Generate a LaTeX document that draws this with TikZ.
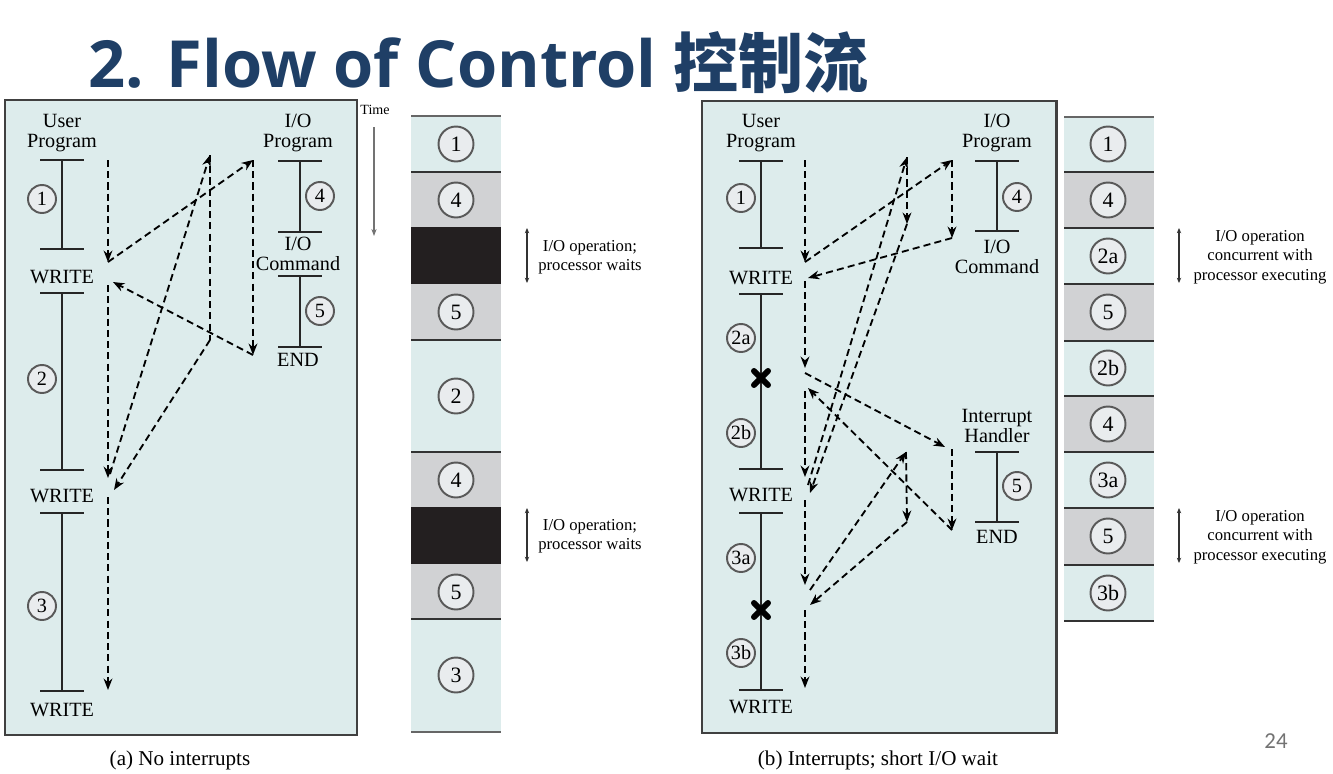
\documentclass[tikz,border=0pt]{standalone}
\usepackage{fontspec}
\setmainfont{Liberation Serif}
\newfontfamily\titlefont{Open Sans}
\newfontfamily\cjk{Noto Sans CJK SC}
\newfontfamily\pagefont{Carlito}
\usetikzlibrary{arrows.meta}

\definecolor{panelbg}{RGB}{221,236,236}
\definecolor{slotgray}{RGB}{209,210,212}
\definecolor{slotblack}{RGB}{35,31,32}
\definecolor{circfill}{RGB}{233,236,238}
\definecolor{titleblue}{RGB}{31,63,102}

\newcommand*{\tick}{22}
\newcommand*{\progbar}[3]{%
  \draw[bar] ({#1-\tick},#2) -- ({#1+\tick},#2)
    (#1,#2) -- (#1,#3)
    ({#1-\tick},#3) -- ({#1+\tick},#3);}
\newcommand*{\intmark}[2]{%
  \draw[line width=3.4pt,line cap=round] (#1-7,#2-7) -- (#1+7,#2+7) (#1-7,#2+7) -- (#1+7,#2-7);}

\begin{document}
\begin{tikzpicture}
[
	x=0.02cm, y=-0.02cm,
	panel/.style={draw=black!75,line width=1.7pt,fill=panelbg},
	bar/.style={line width=1.5pt,black!85},
	num/.style={circle,draw=black!65,fill=circfill,line width=1.1pt,inner sep=0pt,minimum size=0.56cm,font=\fontsize{11.5}{11.5}\selectfont},
	slotnum/.style={circle,draw=black!65,fill=circfill,line width=1.1pt,inner sep=0pt,minimum size=0.7cm,font=\fontsize{12.5}{12.5}\selectfont},
	lbl/.style={align=center,inner sep=0pt,font=\fontsize{11.5}{11.3}\selectfont},
	note/.style={align=center,inner sep=0pt,font=\fontsize{9.5}{11}\selectfont},
	flow/.style={line width=1.05pt,dash pattern=on 4pt off 2.4pt,-{Stealth[length=6.5pt,width=5pt]}},
	plain/.style={line width=1.05pt,dash pattern=on 4pt off 2.4pt},
	span/.style={line width=0.7pt,black!80,{Stealth[length=3pt,width=2.5pt]}-{Stealth[length=3pt,width=2.5pt]}},
	sep/.style={line width=0.8pt,black!80},
	edge/.style={line width=1.6pt,black!60}
]
	\useasboundingbox (0,0) rectangle (1333,774);

	% title
	\node[anchor=base west,inner sep=0pt,text=titleblue,font=\fontsize{37}{40}\selectfont] (title) at (88,87)
		{\titlefont\bfseries 2. Flow of Control \cjk\bfseries 控制流};

	% (a) no interrupts
	\draw[panel] (5,100) rectangle (357,735);
	\node[lbl] (aup) at (62,133) {User\\Program};
	\node[lbl] (aiop) at (298,133) {I/O\\Program};
	\progbar{62}{160}{249}
	\progbar{62}{293}{470}
	\progbar{62}{513}{691}
	\progbar{300}{161}{232}
	\progbar{300}{276}{347}
	\node[lbl] (awr1) at (62,277) {WRITE};
	\node[lbl] (awr2) at (62,496) {WRITE};
	\node[lbl] (awr3) at (62,710) {WRITE};
	\node[lbl,fill=panelbg] (aioc) at (298,254) {I/O\\Command};
	\node[lbl] (aend) at (298,360) {END};
	\node[num] (a1) at (42,199) {1};
	\node[num] (a2) at (42,379) {2};
	\node[num] (a3) at (42,606) {3};
	\node[num] (a4) at (320,196) {4};
	\node[num] (a5) at (320,311) {5};

	% flow of control (a)
	\coordinate (a0) at (108,160);
	\coordinate (aw1) at (108,262);
	\coordinate (ap1) at (253,160);
	\coordinate (ae1) at (253,355);
	\coordinate (ar1) at (113,282);
	\coordinate (as1) at (108,285);
	\coordinate (aw2) at (108,478);
	\coordinate (au2) at (110,474);
	\coordinate (ap2) at (210,155);
	\coordinate (ae2) at (210,340);
	\coordinate (ar2) at (114,490);
	\coordinate (as2) at (108,497);
	\coordinate (az) at (108,690);
	\draw[flow] (a0) -- (aw1);
	\draw[flow] (aw1) -- (ap1);
	\draw[flow] (ap1) -- (ae1);
	\draw[flow] (ae1) -- (ar1);
	\draw[flow] (as1) -- (aw2);
	\draw[flow] (au2) -- (ap2);
	\draw[plain] (ap2) -- (ae2);
	\draw[flow] (ae2) -- (ar2);
	\draw[flow] (as2) -- (az);

	% time axis
	\node[inner sep=0pt,font=\fontsize{8}{8}\selectfont] (time) at (375,110) {Time};
	\coordinate (t0) at (374,127);
	\coordinate (t1) at (374,236);
	\draw[line width=1.2pt,black!55,-{Stealth[length=4pt,width=3pt]}] (t0) -- (t1);

	% timeline (a)
	\foreach \top/\bot/\fil in {116/172/panelbg,172/227/slotgray,227/284/slotblack,284/340/slotgray,340/452/panelbg,452/507/slotgray,507/564/slotblack,564/619/slotgray,619/732/panelbg}
		\fill[\fil] (411,\top) rectangle (501,\bot);
	\foreach \y in {172,340,452,619}
		\draw[sep] (411,\y) -- (501,\y);
	\draw[edge] (411,116) -- (501,116);
	\draw[edge] (411,732) -- (501,732);
	\foreach \y/\lab [count=\i] in {144/1,200/4,312/5,396/2,480/4,592/5,675/3}
		\node[slotnum] (ta\i) at (456,\y) {\lab};

	\coordinate (sa1) at (527,228);
	\coordinate (sa2) at (527,283);
	\coordinate (sa3) at (527,508);
	\coordinate (sa4) at (527,562);
	\draw[span] (sa1) -- (sa2);
	\draw[span] (sa3) -- (sa4);
	\node[note] (na1) at (590,257) {I/O operation;\\processor waits};
	\node[note] (na2) at (590,536) {I/O operation;\\processor waits};

	\node[inner sep=0pt,font=\fontsize{12}{12}\selectfont] (capa) at (180,760) {(a) No interrupts};

	% (b) interrupts, short I/O wait
	\draw[panel] (702,101) rectangle (1056,733);
	\node[lbl] (bup) at (761,133) {User\\Program};
	\node[lbl] (biop) at (997,133) {I/O\\Program};
	\progbar{761}{161}{248}
	\progbar{761}{294}{469}
	\progbar{761}{513}{690}
	\progbar{997}{161}{231}
	\progbar{997}{452}{522}
	\node[lbl] (bwr1) at (761,278) {WRITE};
	\node[lbl] (bwr2) at (761,495) {WRITE};
	\node[lbl] (bwr3) at (761,707) {WRITE};
	\node[lbl] (bioc) at (997,257) {I/O\\Command};
	\node[lbl] (bih) at (997,426) {Interrupt\\Handler};
	\node[lbl] (bend) at (997,537) {END};
	\intmark{761}{378}
	\intmark{761}{610}
	\node[num] (b1) at (741,198) {1};
	\node[num] (b2a) at (741,338) {2a};
	\node[num] (b2b) at (741,433) {2b};
	\node[num] (b3a) at (741,558) {3a};
	\node[num] (b3b) at (741,653) {3b};
	\node[num] (b4) at (1017,197) {4};
	\node[num] (b5) at (1017,486) {5};

	% flow of control (b)
	\coordinate (b0) at (805,160);
	\coordinate (bw1) at (805,262);
	\coordinate (bp1) at (952,160);
	\coordinate (bc1) at (952,238);
	\coordinate (br1) at (808,278);
	\coordinate (bs1) at (805,281);
	\coordinate (bx1) at (805,368);
	\coordinate (bi1) at (805,373);
	\coordinate (bh1) at (945,447);
	\coordinate (bh1t) at (952,449);
	\coordinate (bd1) at (952,530);
	\coordinate (bq1) at (808,388);
	\coordinate (bs2) at (805,391);
	\coordinate (bw2) at (805,477);
	\coordinate (bu2) at (808,485);
	\coordinate (bp2) at (907,157);
	\coordinate (bc2) at (907,224);
	\coordinate (br2) at (810,493);
	\coordinate (bs3) at (805,500);
	\coordinate (bx2) at (805,585);
	\coordinate (bi2) at (810,590);
	\coordinate (bh2) at (906,452);
	\coordinate (bd2) at (907,522);
	\coordinate (bq2) at (810,605);
	\coordinate (bs4) at (805,610);
	\coordinate (bz) at (805,688);
	\draw[flow] (b0) -- (bw1);
	\draw[flow] (bw1) -- (bp1);
	\draw[flow] (bp1) -- (bc1);
	\draw[flow] (bc1) -- (br1);
	\draw[flow] (bs1) -- (bx1);
	\draw[flow] (bi1) -- (bh1);
	\draw[flow] (bh1t) -- (bd1);
	\draw[flow] (bd1) -- (bq1);
	\draw[flow] (bs2) -- (bw2);
	\draw[flow] (bu2) -- (bp2);
	\draw[flow] (bp2) -- (bc2);
	\draw[flow] (bc2) -- (br2);
	\draw[flow] (bs3) -- (bx2);
	\draw[flow] (bi2) -- (bh2);
	\draw[flow] (bh2) -- (bd2);
	\draw[flow] (bd2) -- (bq2);
	\draw[flow] (bs4) -- (bz);

	% timeline (b)
	\foreach \top/\bot/\fil in {117/172/panelbg,172/228/slotgray,228/284/panelbg,284/341/slotgray,341/396/panelbg,396/452/slotgray,452/508/panelbg,508/565/slotgray,565/621/panelbg}
		\fill[\fil] (1064,\top) rectangle (1154,\bot);
	\foreach \y in {172,228,284,341,396,452,508,565}
		\draw[sep] (1064,\y) -- (1154,\y);
	\draw[edge] (1064,117) -- (1154,117);
	\draw[sep] (1064,621) -- (1154,621);
	\foreach \y/\lab [count=\i] in {144/1,200/4,256/2a,312/5,368/2b,424/4,480/3a,536/5,593/3b}
		\node[slotnum] (tb\i) at (1108,\y) {\lab};

	\coordinate (sb1) at (1179,228);
	\coordinate (sb2) at (1179,283);
	\coordinate (sb3) at (1179,508);
	\coordinate (sb4) at (1179,563);
	\draw[span] (sb1) -- (sb2);
	\draw[span] (sb3) -- (sb4);
	\node[note] (nb1) at (1260,257) {I/O operation\\concurrent with\\processor executing};
	\node[note] (nb2) at (1260,537) {I/O operation\\concurrent with\\processor executing};

	\node[inner sep=0pt,font=\fontsize{12}{12}\selectfont] (capb) at (878,760) {(b) Interrupts; short I/O wait};

	% page number
	\node[inner sep=0pt,text=black!55,font=\pagefont\fontsize{13}{13}\selectfont] (page) at (1276,741) {24};
\end{tikzpicture}
\end{document}
